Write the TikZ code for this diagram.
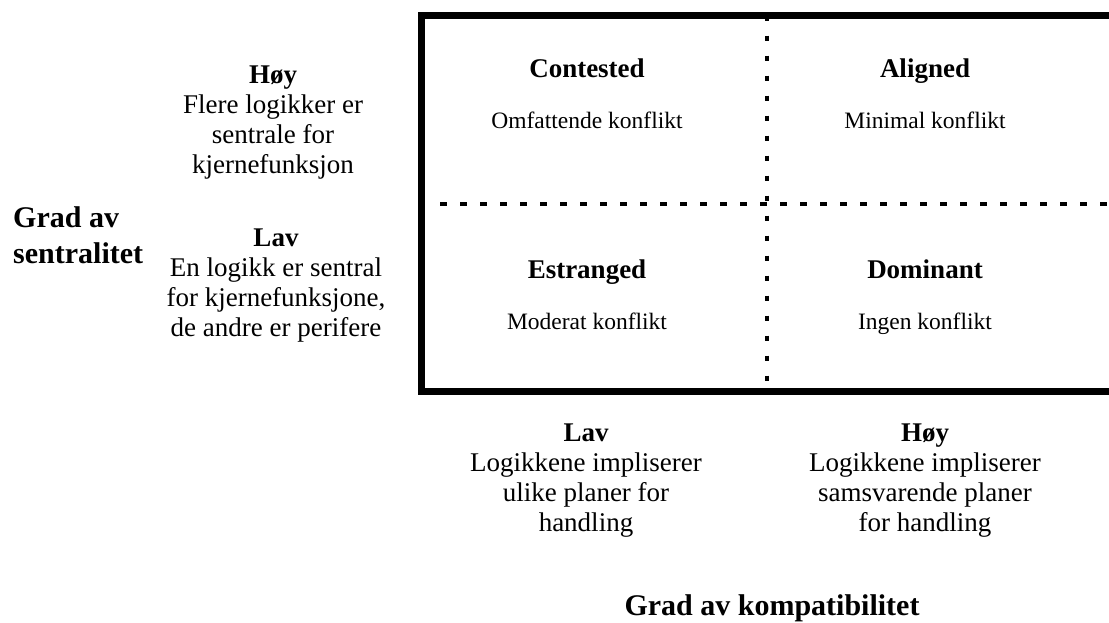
\documentclass[tikz,border=0pt]{standalone}
\usepackage{fontspec}
\setmainfont{Liberation Serif}
\newcommand\fieldlabel[5]{\node[celltitle] (#1) at (#2,#3) {#4};
  \node[celltext] (#1txt) at (#2,#3+53) {#5};}

\begin{document}
\begin{tikzpicture}[x=1pt,y=-1pt,
  celltitle/.style={font=\fontsize{27}{30}\selectfont\bfseries, text height=18pt, text depth=0pt, inner sep=0pt},
  celltext/.style={font=\fontsize{23.5}{28}\selectfont, text height=15pt, text depth=0pt, inner sep=0pt},
  sidetext/.style={align=center, font=\fontsize{27}{30}\selectfont, inner sep=0pt},
  axislabel/.style={font=\fontsize{30}{36}\selectfont\bfseries, inner sep=0pt},
  dashline/.style={line width=3.5pt, dash pattern=on 7pt off 13pt},
  dotline/.style={line width=3.5pt, dash pattern=on 5pt off 15pt}]
\useasboundingbox (0,0) rectangle (1109,622);
\draw[line width=6.5pt] (1109,15.5) -- (421.5,15.5) -- (421.5,391.5) -- (1109,391.5);
\coordinate (midl) at (440,204);
\coordinate (midr) at (1109,204);
\coordinate (top) at (767,15.5);
\coordinate (bot) at (767,391.5);
\draw[dashline] (midl) -- (midr);
\draw[dotline] (top) -- (bot);
\fieldlabel{contested}{587}{68}{Contested}{Omfattende konflikt}
\fieldlabel{aligned}{925}{68}{Aligned}{Minimal konflikt}
\fieldlabel{estranged}{587}{269}{Estranged}{Moderat konflikt}
\fieldlabel{dominant}{925}{269}{Dominant}{Ingen konflikt}
\node[sidetext] (hoyrow) at (273,123) {\textbf{Høy}\\Flere logikker er\\sentrale for\\kjernefunksjon};
\node[sidetext] (lavrow) at (276,286) {\textbf{Lav}\\En logikk er sentral\\for kjernefunksjone,\\de andre er perifere};
\node[axislabel, align=left, anchor=west] (sentral) at (13,235) {Grad av\\sentralitet};
\node[sidetext] (lavcol) at (586,481) {\textbf{Lav}\\Logikkene impliserer\\ulike planer for\\handling};
\node[sidetext] (hoycol) at (925,481) {\textbf{Høy}\\Logikkene impliserer\\samsvarende planer\\for handling};
\node[axislabel] (kompat) at (772,608) {Grad av kompatibilitet};
\end{tikzpicture}
\end{document}
